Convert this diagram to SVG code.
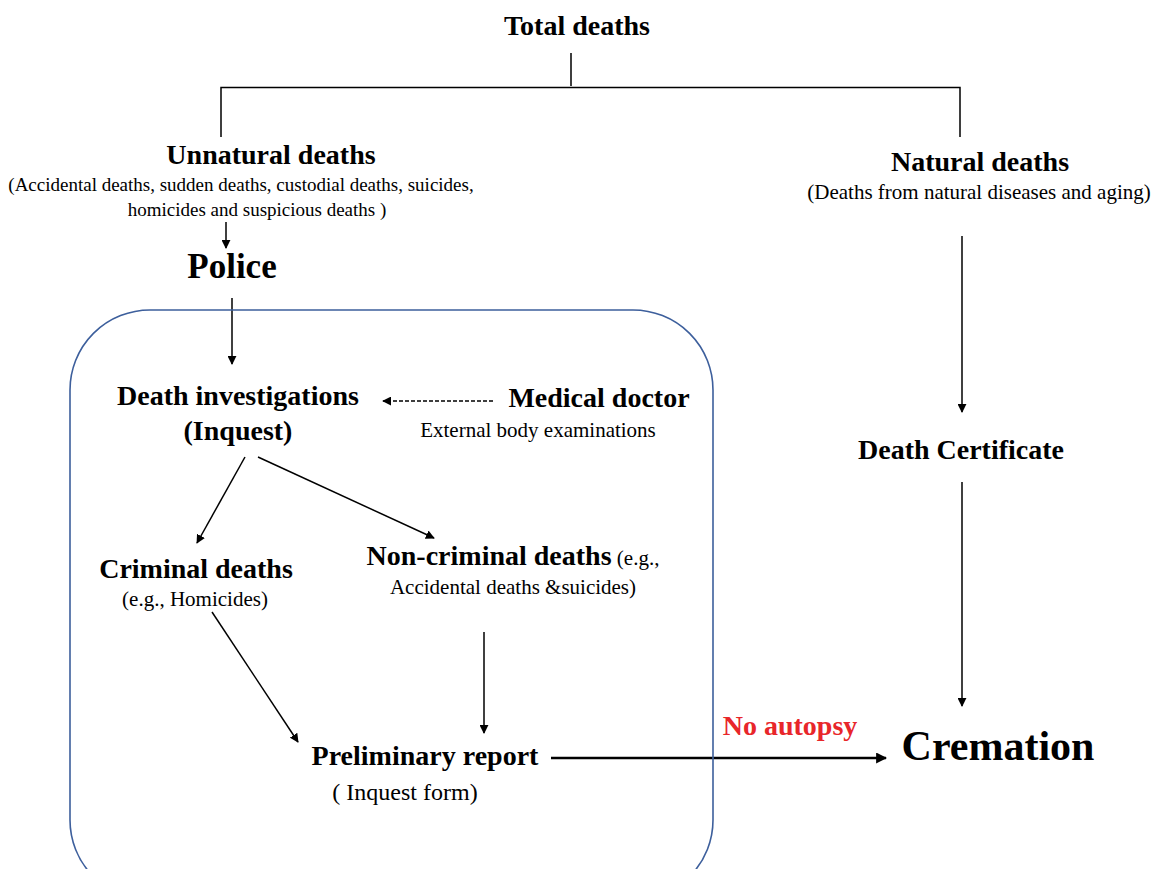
<svg xmlns="http://www.w3.org/2000/svg" width="1153" height="869" viewBox="0 0 1153 869">
<defs>
<marker id="ah" viewBox="0 0 10 10" refX="9" refY="5" markerWidth="9" markerHeight="9" markerUnits="userSpaceOnUse" orient="auto"><path d="M0,0 L10,5 L0,10 z" fill="#000"/></marker>
<marker id="ahb" viewBox="0 0 10 10" refX="9" refY="5" markerWidth="11" markerHeight="11" markerUnits="userSpaceOnUse" orient="auto"><path d="M0,0 L10,5 L0,10 z" fill="#000"/></marker>
</defs>
<style>
text{font-family:"Liberation Serif","Times New Roman",serif;fill:#000;text-anchor:middle}
.h{font-weight:bold;font-size:28px}
.s{font-size:21px}
.c{stroke:#000;stroke-width:1.5;fill:none}
</style>
<rect width="1153" height="869" fill="#fff"/>
<g id="connectors">
<path class="c" d="M571,53 V86 M221,137 V87.5 H960 V137"/>
<line class="c" x1="226" y1="222" x2="226" y2="248" marker-end="url(#ah)"/>
<line class="c" x1="232" y1="298" x2="232" y2="364" marker-end="url(#ah)"/>
<line class="c" x1="493" y1="401" x2="383" y2="401" stroke-dasharray="4,2" marker-end="url(#ah)"/>
<line class="c" x1="245" y1="457" x2="197" y2="543" marker-end="url(#ah)"/>
<line class="c" x1="258" y1="457" x2="434" y2="538" marker-end="url(#ah)"/>
<line class="c" x1="484" y1="632" x2="484" y2="733" marker-end="url(#ah)"/>
<line class="c" x1="212" y1="612" x2="298" y2="742" marker-end="url(#ah)"/>
<line class="c" x1="962" y1="236" x2="962" y2="412" marker-end="url(#ah)"/>
<line class="c" x1="962" y1="482" x2="962" y2="706" marker-end="url(#ah)"/>
<line x1="551" y1="758" x2="886" y2="758" stroke="#000" stroke-width="2.5" marker-end="url(#ahb)"/>
</g>
<g id="inquest-box"><rect x="70" y="310" width="643" height="590" rx="80" ry="80" fill="none" stroke="#3d5f9c" stroke-width="1.6"/></g>
<g id="total"><text class="h" x="577" y="35">Total deaths</text></g>
<g id="unnatural">
<text class="h" x="271" y="164">Unnatural deaths</text>
<text class="s" x="241" y="191" style="font-size:19px">(Accidental deaths, sudden deaths, custodial deaths, suicides,</text>
<text class="s" x="257" y="216" style="font-size:19px">homicides and suspicious deaths )</text>
</g>
<g id="police"><text x="232" y="278" style="font-weight:bold;font-size:35px">Police</text></g>
<g id="investigation">
<text class="h" x="238" y="405">Death investigations</text>
<text class="h" x="238" y="440">(Inquest)</text>
</g>
<g id="doctor">
<text class="h" x="599" y="407">Medical doctor</text>
<text class="s" x="538" y="437">External body examinations</text>
</g>
<g id="criminal">
<text class="h" x="196" y="578">Criminal deaths</text>
<text class="s" x="195" y="606">(e.g., Homicides)</text>
</g>
<g id="noncriminal">
<text x="513" y="565"><tspan class="h">Non-criminal deaths</tspan><tspan class="s"> (e.g.,</tspan></text>
<text class="s" x="513" y="594">Accidental deaths &amp;suicides)</text>
</g>
<g id="report">
<text class="h" x="425" y="765">Preliminary report</text>
<text class="s" x="405" y="800" style="font-size:24px">( Inquest form)</text>
</g>
<g id="noautopsy"><text x="790" y="735" style="font-weight:bold;font-size:28px;fill:#e8262a">No autopsy</text></g>
<g id="cremation"><text x="998" y="760" style="font-weight:bold;font-size:42px">Cremation</text></g>
<g id="natural">
<text class="h" x="980" y="171">Natural deaths</text>
<text class="s" x="979" y="199">(Deaths from natural diseases and aging)</text>
</g>
<g id="certificate"><text class="h" x="961" y="459">Death Certificate</text></g>
</svg>
